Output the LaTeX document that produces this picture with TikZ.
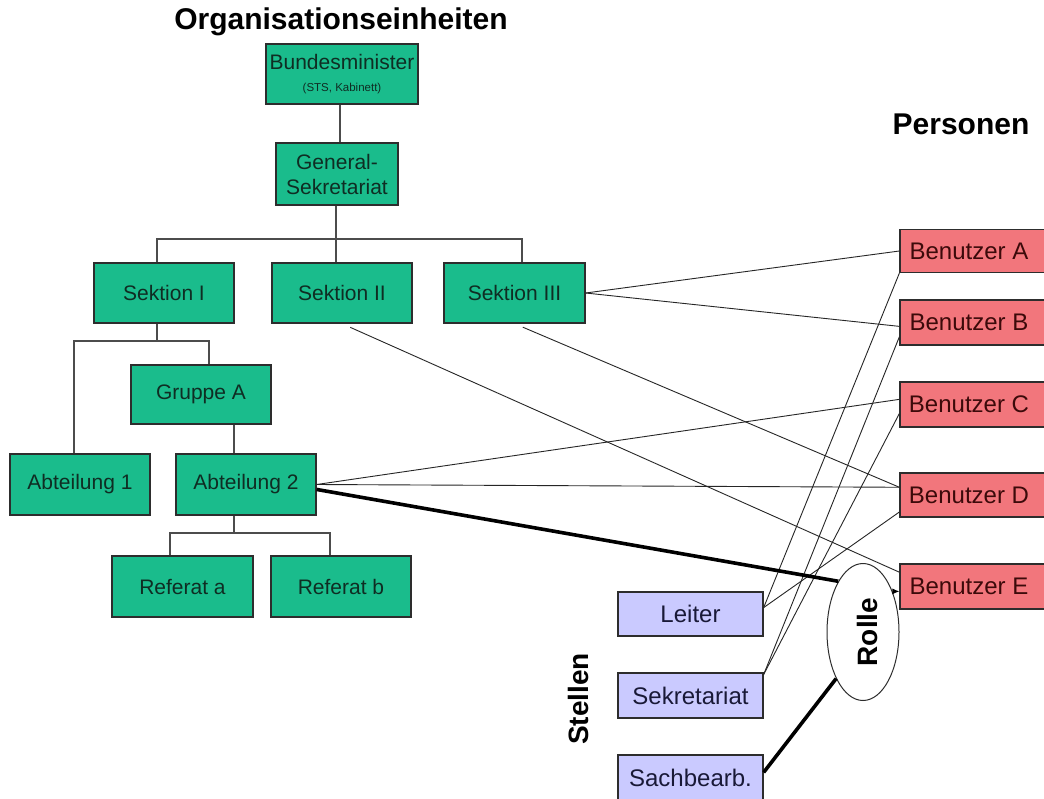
\documentclass[tikz,border=0pt]{standalone}
\usepackage{fontspec}
\setmainfont{Liberation Sans}
\usetikzlibrary{shapes.geometric,arrows.meta}
\definecolor{grn}{RGB}{26,188,140}
\definecolor{rd}{RGB}{242,118,124}
\definecolor{lav}{RGB}{202,202,255}
\definecolor{bord}{RGB}{45,45,45}
\definecolor{rtext}{RGB}{60,10,10}
\definecolor{ltext}{RGB}{25,25,55}
\definecolor{gtext}{RGB}{15,45,35}
\begin{document}
\begin{tikzpicture}[x=1pt,y=-1pt,
  gbox/.style={draw=bord,line width=1.3pt,fill=grn,inner sep=0pt,align=center,
    text=gtext,font=\fontsize{21}{25}\selectfont},
  rbox/.style={draw=bord,line width=1.3pt,fill=rd,inner sep=0pt,
    minimum width=146pt,text=rtext,font=\fontsize{24}{28}\selectfont},
  lbox/.style={draw=bord,line width=1.3pt,fill=lav,inner sep=0pt,
    minimum width=145pt,text=ltext,font=\fontsize{24}{28}\selectfont},
  tree/.style={draw=bord!85,line width=1.2pt},
  thin/.style={draw=black!85,line width=0.9pt},
  heavy/.style={draw=black,line width=3.6pt},
  ttl/.style={font=\fontsize{30}{34}\selectfont\bfseries,inner sep=0pt}]
\useasboundingbox (0,0) rectangle (1044,798);
\fill[white] (0,0) rectangle (1044,798);

% titles
\node[ttl] (t1) at (341,22) {Organisationseinheiten};
\node[ttl] (t2) at (961,124) {Personen};
\node[ttl,font=\fontsize{28}{32}\selectfont\bfseries] (t3) at (578,699) {\rotatebox{90}{Stellen}};

% green boxes
\node[gbox,minimum width=152pt,minimum height=60pt] (bm) at (342,74)
  {Bundesminister\\[-3pt]{\fontsize{11.5}{13}\selectfont (STS, Kabinett)}};
\node[gbox,minimum width=122pt,minimum height=62pt] (gs) at (337,174) {General-\\Sekretariat};
\node[gbox,minimum width=140pt,minimum height=60pt] (s1) at (164,293) {Sektion I};
\node[gbox,minimum width=140pt,minimum height=60pt] (s2) at (342,293) {Sektion II};
\node[gbox,minimum width=141pt,minimum height=60pt] (s3) at (514.5,293) {Sektion III};
\node[gbox,minimum width=140pt,minimum height=59pt] (ga) at (201,394.5) {Gruppe A};
\node[gbox,minimum width=140pt,minimum height=61pt] (a1) at (80,484.5) {Abteilung 1};
\node[gbox,minimum width=140pt,minimum height=61pt] (a2) at (246,484.5) {Abteilung 2};
\node[gbox,minimum width=141pt,minimum height=61pt] (ra) at (182.5,586.5) {Referat a};
\node[gbox,minimum width=140pt,minimum height=61pt] (rb) at (341,586.5) {Referat b};

% tree connectors
\draw[tree] (bm.south -| 340,0) -- (gs.north -| 340,0);
\coordinate (h1) at (336,239);
\draw[tree] (gs.south -| h1) -- (h1);
\draw[tree] (s1.north -| 157,0) |- (h1) -| (s3.north -| 522,0);
\draw[tree] (h1) -- (s2.north -| h1);
\coordinate (h2) at (157,341);
\draw[tree] (s1.south -| h2) -- (h2);
\draw[tree] (a1.north -| 74,0) |- (h2) -| (ga.north -| 209,0);
\draw[tree] (ga.south -| 234,0) -- (a2.north -| 234,0);
\coordinate (h3) at (234,533);
\draw[tree] (a2.south -| h3) -- (h3);
\draw[tree] (ra.north -| 170,0) |- (h3) -| (rb.north -| 330,0);

% red boxes
\node[rbox,minimum height=43pt] (bA) at (973,251) {\hspace*{-4pt}Benutzer A\hspace*{4pt}};
\node[rbox,minimum height=45pt] (bB) at (973,322.5) {\hspace*{-4pt}Benutzer B\hspace*{4pt}};
\node[rbox,minimum height=45pt] (bC) at (973,404.5) {\hspace*{-4pt}Benutzer C\hspace*{4pt}};
\node[rbox,minimum height=44pt] (bD) at (973,495) {\hspace*{-4pt}Benutzer D\hspace*{4pt}};
\node[rbox,minimum height=45pt] (bE) at (973,586.5) {\hspace*{-4pt}Benutzer E\hspace*{4pt}};

% lavender boxes
\node[lbox,minimum height=44pt] (le) at (690.5,614) {Leiter};
\node[lbox,minimum height=45pt] (sk) at (690.5,695.5) {Sekretariat};
\node[lbox,minimum height=45pt] (sb) at (690.5,777.5) {Sachbearb.};

% thin connectors
\draw[thin] (s3.east) -- (bA.west);
\draw[thin] (s3.east) -- (bB.183.5);
\draw[thin,shorten <=9pt] (s2.south) -- (bE.169.5);
\draw[thin,shorten <=9pt] (s3.south) -- (bD.174.5);
\draw[thin] (a2.east) -- (bC.176.5);
\draw[thin] (a2.east) -- (bD.174.5);
\draw[thin] (le.5) -- (bA.south west);
\draw[thin] (le.5) -- (bD.193);
\draw[thin] (sk.16) -- (bB.191);
\draw[thin] (sk.16) -- (bC.187);

% Rolle
\node[ellipse,draw=bord,line width=1pt,fill=white,minimum width=72pt,minimum height=137pt,
  inner sep=0pt,font=\fontsize{28}{32}\selectfont\bfseries] (rolle) at (863,632)
  {\hspace*{8pt}\rotatebox{90}{Rolle}};
\draw[heavy] (a2.-4) -- (rolle.116);
\draw[heavy] (sb.4) -- (rolle.240);
\draw[line width=0.9pt,-{Latex[length=7pt,width=6pt]}] (rolle.54) -- (rolle.54 -| bE.west);
\end{tikzpicture}
\end{document}
